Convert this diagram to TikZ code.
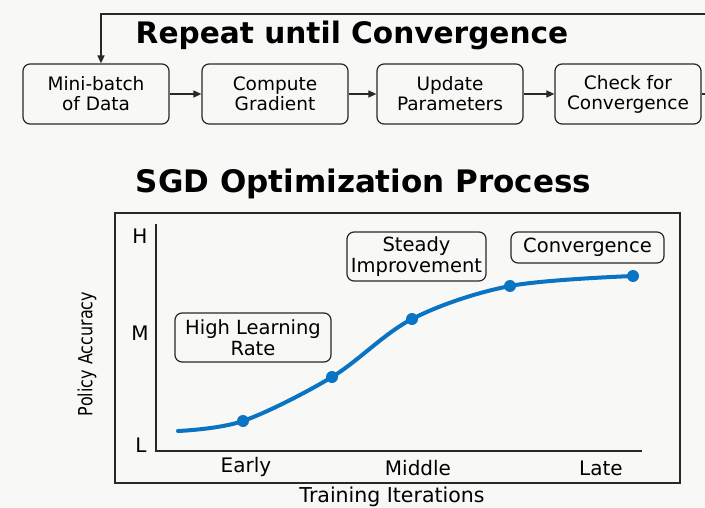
\documentclass[tikz,border=0pt]{standalone}
\usepackage{fontspec}
\setmainfont{DejaVu Sans}
\newfontfamily\narrowfont[FakeStretch=0.82]{DejaVu Sans}
\usetikzlibrary{arrows.meta}
\definecolor{ink}{RGB}{40,40,40}
\definecolor{curveblue}{RGB}{10,116,196}
\definecolor{paper}{RGB}{248,248,247}
\begin{document}
\begin{tikzpicture}[x=1pt,y=-1pt,
  flowbox/.style={draw=ink, line width=1.2pt, rounded corners=7pt,
    minimum width=146pt, minimum height=60pt, align=center, inner sep=0pt,
    font=\fontsize{18.5}{20}\selectfont},
  flowarrow/.style={draw=ink, line width=1.5pt, -{Triangle[length=8pt,width=7pt]}},
  tag/.style={draw=ink, line width=1.2pt, rounded corners=7pt, align=center,
    inner sep=0pt, font=\fontsize{19.5}{21}\selectfont},
  ticklabel/.style={font=\fontsize{20}{24}\selectfont, inner sep=0pt},
  dot/.style={circle, fill=curveblue, minimum size=12pt, inner sep=0pt},
  frame/.style={draw=ink, line width=1.2pt}]
\useasboundingbox (0,0) rectangle (705,508);
\clip (0,0) rectangle (705,508);
\fill[paper] (0,0) rectangle (705,508);

% ---- training loop ----
\node[anchor=base, font=\bfseries\fontsize{29.6}{32}\selectfont] (looptitle) at (352,44) {Repeat until Convergence};

\node[flowbox] (mb) at (96,94)  {Mini-batch\\of Data};
\node[flowbox] (cg) at (275,94) {Compute\\Gradient};
\node[flowbox] (up) at (450,94) {Update\\Parameters};
\node[flowbox] (cc) at (628,94) {Check for\\Convergence};

\draw[flowarrow] (mb) -- (cg);
\draw[flowarrow] (cg) -- (up);
\draw[flowarrow] (up) -- (cc);

\coordinate (loopR) at (725,94);
\coordinate (loopT) at (725,14);
\coordinate (loopL) at (101,14);
\draw[flowarrow] (cc.east) -- (loopR) -- (loopT) -- (loopL) -- (mb.north -| loopL);

% ---- optimisation chart ----
\node[anchor=base, font=\bfseries\fontsize{31}{34}\selectfont] (charttitle) at (363.5,193) {SGD Optimization Process};

\draw[frame] (115,213) rectangle (680,483);
\draw[frame] (156,224) -- (156,451) -- (642,451);

\node[ticklabel] (lh) at (140,236) {H};
\node[ticklabel] (lm) at (140,333) {M};
\node[ticklabel] (ll) at (141,445) {L};
\node[ticklabel] (early)  at (246,467) {Early};
\node[ticklabel] (middle) at (418,468) {Middle};
\node[ticklabel] (late)   at (601,468) {Late};

\node[rotate=90, font=\narrowfont\fontsize{19.5}{22}\selectfont] (ylab) at (87,354) {Policy Accuracy};
\node[anchor=base, font=\fontsize{20.5}{24}\selectfont] (xlab) at (392,502) {Training Iterations};

\coordinate (p0) at (178,431);
\coordinate (p1) at (243,421);
\coordinate (p2) at (332,377);
\coordinate (p3) at (412,319);
\coordinate (p4) at (510,286);
\coordinate (p5) at (633,276);
\draw[curveblue, line width=4pt, line cap=round]
  plot[smooth, tension=0.55] coordinates {(p0) (p1) (p2) (p3) (p4) (p5)};
\foreach \i in {1,...,5} \node[dot] (d\i) at (p\i) {};

\node[tag, minimum width=156pt, minimum height=49pt] (hlr) at (253,337.5) {High Learning\\Rate};
\node[tag, minimum width=139pt, minimum height=49pt] (si)  at (416.5,256.5) {Steady\\Improvement};
\node[tag, minimum width=153pt, minimum height=31pt] (cv)  at (587.5,247.5) {Convergence};
\end{tikzpicture}
\end{document}
